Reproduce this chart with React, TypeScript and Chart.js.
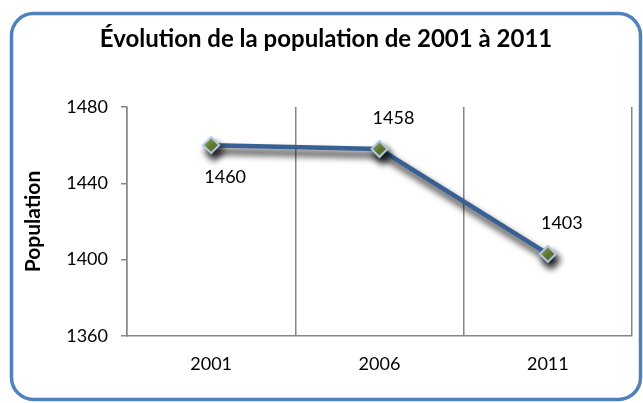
import React, { useEffect, useRef } from "react";
import { Chart, registerables } from "chart.js";

Chart.register(...registerables);

const chartTitle = "Évolution de la population de 2001 à 2011";
const yAxisTitle = "Population";
const years = ["2001", "2006", "2011"];
const population = [1460, 1458, 1403];
const yTicks = [1360, 1400, 1440, 1480];
const labelSides = ["below", "above", "above"];

const FONT = "Lato, 'Open Sans', sans-serif";

export default function App() {
  const ref = useRef<HTMLCanvasElement | null>(null);

  useEffect(() => {
    document.body.style.margin = "0";
    const canvas = ref.current;
    if (!canvas) return;

    const framePlugin = {
      id: "frame",
      beforeDraw(chart: any) {
        const ctx = chart.ctx;
        ctx.save();
        ctx.fillStyle = "#ffffff";
        ctx.fillRect(0, 0, chart.width, chart.height);
        ctx.beginPath();
        (ctx as any).roundRect(11.5, 13.5, 629, 386, 22);
        ctx.lineWidth = 3.5;
        ctx.strokeStyle = "#4F81BD";
        ctx.stroke();
        ctx.fillStyle = "#000000";
        ctx.font = `bold 24px ${FONT}`;
        ctx.textAlign = "center";
        ctx.textBaseline = "alphabetic";
        ctx.fillText(chartTitle, 326, 47);
        ctx.restore();
      },
    };

    const shadowPlugin = {
      id: "lineShadow",
      beforeDatasetsDraw(chart: any) {
        const ctx = chart.ctx;
        ctx.save();
        ctx.shadowColor = "rgba(0,0,0,0.95)";
        ctx.shadowBlur = 7;
        ctx.shadowOffsetX = 3;
        ctx.shadowOffsetY = 6;
      },
      afterDatasetsDraw(chart: any) {
        const ctx = chart.ctx;
        ctx.restore();
        const meta = chart.getDatasetMeta(0);
        ctx.save();
        ctx.fillStyle = "#000000";
        ctx.font = `18px ${FONT}`;
        ctx.textAlign = "center";
        ctx.textBaseline = "middle";
        meta.data.forEach((pt: any, i: number) => {
          const dy = labelSides[i] === "below" ? 32 : -31;
          ctx.fillText(String(population[i]), pt.x + 14, pt.y + dy);
        });
        ctx.restore();
      },
    };

    const chart = new Chart(canvas, {
      type: "line",
      data: {
        labels: years,
        datasets: [
          {
            data: population,
            borderColor: "#386094",
            borderWidth: 4.5,
            pointStyle: "rectRot",
            pointRadius: 8,
            pointBackgroundColor: "#7F9B45",
            pointBorderColor: "#B4C8E3",
            pointBorderWidth: 2,
            tension: 0,
          },
        ],
      },
      options: {
        animation: false,
        responsive: false,
        events: [],
        layout: { padding: { top: 107, right: 11, left: 0, bottom: 0 } },
        plugins: {
          legend: { display: false },
          tooltip: { enabled: false },
          title: { display: false },
        },
        scales: {
          x: {
            type: "category",
            offset: true,
            grid: {
              offset: true,
              color: "#868686",
              lineWidth: 1.5,
              drawTicks: false,
            },
            border: { color: "#868686", width: 1.5 },
            ticks: {
              color: "#000000",
              font: { family: FONT, size: 18 },
              padding: 17,
            },
            afterFit(scale: any) {
              scale.height = 67;
            },
          },
          y: {
            min: yTicks[0],
            max: yTicks[yTicks.length - 1],
            afterBuildTicks(scale: any) {
              scale.ticks = yTicks.map((v) => ({ value: v }));
            },
            grid: {
              drawOnChartArea: false,
              drawTicks: true,
              tickLength: 6,
              color: "#868686",
              lineWidth: 1.5,
            },
            border: { color: "#868686", width: 1.5 },
            ticks: {
              color: "#000000",
              font: { family: FONT, size: 18 },
              padding: 13,
              callback: (v: any) => String(v),
            },
            title: {
              display: true,
              text: yAxisTitle,
              color: "#000000",
              font: { family: FONT, size: 21, weight: "bold" },
              padding: { top: 21, bottom: 0 },
            },
            afterFit(scale: any) {
              scale.width = 127;
            },
          },
        },
      },
      plugins: [framePlugin, shadowPlugin],
    } as any);

    return () => chart.destroy();
  }, []);

  return (
    <div style={{ width: 643, height: 403 }}>
      <canvas ref={ref} width={643} height={403} />
    </div>
  );
}
